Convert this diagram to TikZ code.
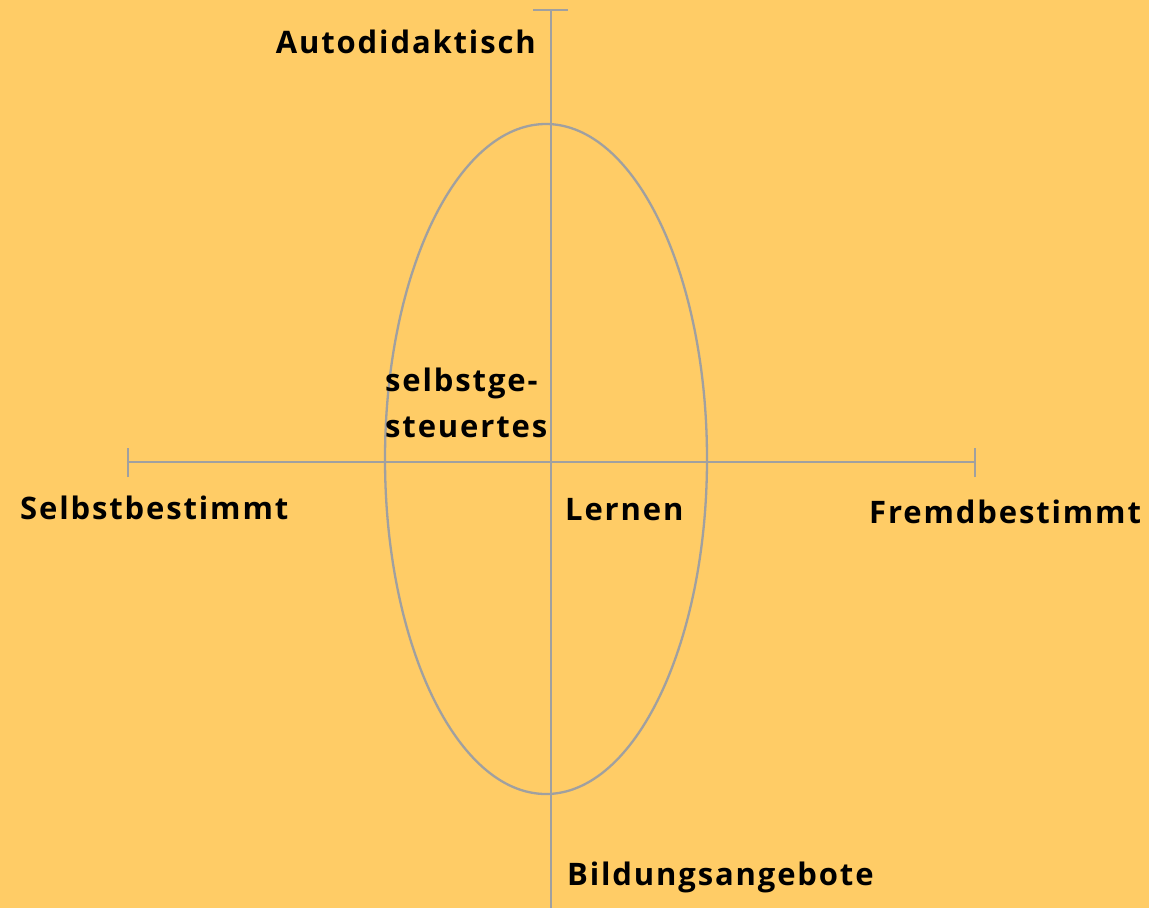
\documentclass[tikz,border=0pt]{standalone}
\usepackage{fontspec}
\setmainfont{Open Sans}[LetterSpace=6.0]
\usetikzlibrary{shapes.geometric}
\definecolor{bg}{HTML}{FFCC66}
\definecolor{axis}{HTML}{A0A0A0}
\begin{document}
\begin{tikzpicture}[x=1pt,y=-1pt,
  ax/.style={draw=axis,line width=2.8pt},
  lbl/.style={font=\fontsize{31}{40}\selectfont\bfseries,inner sep=0pt,text=black}]
\fill[bg] (0,0) rectangle (1149,908);
\useasboundingbox (0,0) rectangle (1149,908);
% axes
\coordinate (vt) at (551,10);
\coordinate (vb) at (551,908);
\coordinate (hl) at (128,462);
\coordinate (hr) at (975,462);
\draw[ax] (vt) -- (vb);
\draw[ax] (hl) -- (hr);
\draw[ax] ([xshift=-18pt]vt) -- ([xshift=17pt]vt);
\draw[ax] ([yshift=-15pt]hl) -- ([yshift=14pt]hl);
\draw[ax] ([yshift=-15pt]hr) -- ([yshift=14pt]hr);
% ellipse
\node[draw=axis,line width=2.3pt,ellipse,minimum width=322pt,minimum height=670pt,inner sep=0pt] (ell) at (546,459) {};
% labels
\node[lbl,anchor=east] (auto) at (536,42) {Autodidaktisch};
\node[lbl,anchor=west] (s1) at (385,383) {selbstge-};
\node[lbl,anchor=west] (s2) at (385,427) {steuertes};
\node[lbl,anchor=west] (sb) at (20,508) {Selbstbestimmt};
\node[lbl,anchor=west] (ln) at (565,510) {Lernen};
\node[lbl,anchor=west] (fb) at (869,512) {Fremdbestimmt};
\node[lbl,anchor=west] (bi) at (567,877) {Bildungsangebote};
\end{tikzpicture}
\end{document}
